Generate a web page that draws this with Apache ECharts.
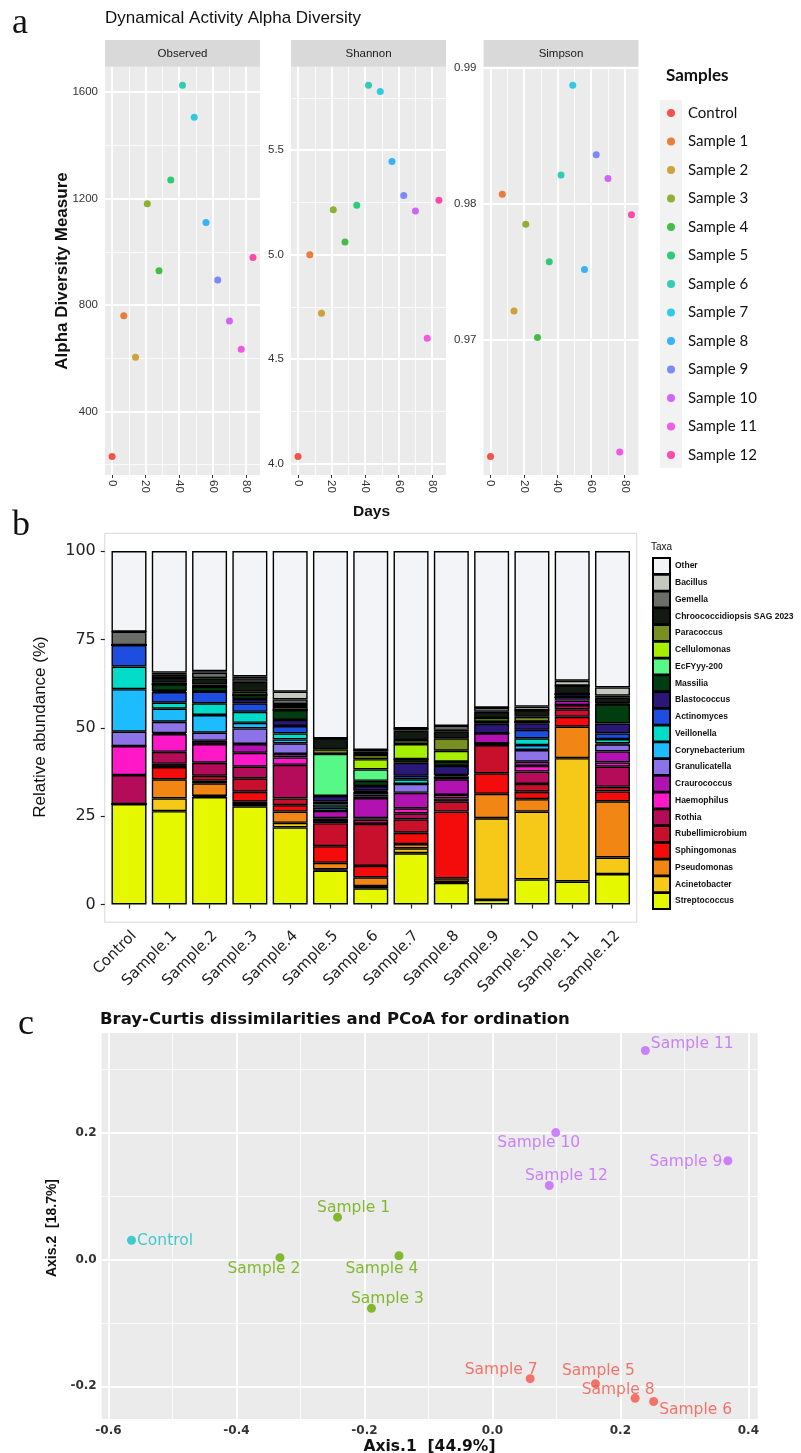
<!DOCTYPE html>
<html>
<head>
<meta charset="utf-8">
<title>Alpha diversity, taxa composition and PCoA</title>
<script src="https://cdn.jsdelivr.net/npm/echarts@6.0.0/dist/echarts.min.js"></script>
<style>
html, body { margin: 0; padding: 0; background: #ffffff; }
#chart { width: 801px; height: 1453px; }
</style>
</head>
<body>
<div id="chart"></div>
<script>
// ---------- (a) alpha diversity over the sampling days ----------
const sampleNames = ['Control', 'Sample 1', 'Sample 2', 'Sample 3', 'Sample 4', 'Sample 5', 'Sample 6',
  'Sample 7', 'Sample 8', 'Sample 9', 'Sample 10', 'Sample 11', 'Sample 12'];
const samplingDays = [0, 7, 14, 21, 28, 35, 42, 49, 56, 63, 70, 77, 84];
const observedRichness = [231, 760, 604, 1181, 929, 1270, 1626, 1506, 1110, 894, 740, 634, 979];
const shannonIndex = [4.035, 5.000, 4.720, 5.215, 5.060, 5.236, 5.810, 5.780, 5.446, 5.283, 5.209, 4.600, 5.260];
const simpsonIndex = [0.96146, 0.98070, 0.97214, 0.97851, 0.97020, 0.97576, 0.98212, 0.98871, 0.97519, 0.98361, 0.98187, 0.96178, 0.97920];
const sampleColors = ['#f42a20', '#ea5f0c', '#c4900c', '#74a000', '#1cb01c', '#00c25a', '#00c4a6', '#00c0e4',
  '#0aa2fa', '#5f6ffa', '#c844fa', '#f434e0', '#ff2296'];

const dayTicks = [0, 20, 40, 60, 80];
const dayMinorTicks = [10, 30, 50, 70];
const observedTicks = [400, 800, 1200, 1600];
const observedMinorTicks = [200, 600, 1000, 1400];
const shannonTicks = [4.0, 4.5, 5.0, 5.5];
const shannonMinorTicks = [4.25, 4.75, 5.25, 5.75];
const simpsonTicks = [0.97, 0.98, 0.99];
const simpsonMinorTicks = [0.965, 0.975, 0.985];

// ---------- (b) relative abundance of taxa (%) ----------
const barSamples = ['Control', 'Sample.1', 'Sample.2', 'Sample.3', 'Sample.4', 'Sample.5', 'Sample.6',
  'Sample.7', 'Sample.8', 'Sample.9', 'Sample.10', 'Sample.11', 'Sample.12'];
const streptococcus     = [28.4, 26.4, 30.4, 27.8, 21.8, 9.6, 4.6, 14.5, 6.1, 1.3, 7.1, 6.5, 8.6];
const acinetobacter     = [0, 3.6, 0.3, 0.6, 1.3, 0.3, 0.6, 1.4, 0.3, 23.1, 19.2, 34.9, 4.7];
const pseudomonas       = [0, 5.4, 3.6, 0.7, 3.2, 1.9, 2.5, 1.2, 1.0, 6.9, 3.5, 8.9, 15.9];
const sphingomonas      = [0, 3.5, 0.7, 2.8, 1.8, 4.7, 3.2, 3.2, 18.9, 5.8, 2.1, 2.8, 2.8];
const rubellimicrobium  = [0, 0.9, 1.4, 3.8, 1.9, 6.5, 11.9, 3.8, 2.8, 8.0, 2.2, 2.1, 1.3];
const rothia            = [8.2, 3.4, 3.7, 3.3, 9.5, 0.9, 1.2, 1.7, 0.9, 0.5, 3.5, 1.2, 5.7];
const haemophilus       = [8.2, 5.0, 5.3, 3.9, 2.1, 0.5, 0.4, 1.4, 1.0, 0, 1.6, 0, 1.2];
const craurococcus      = [0, 0.3, 0.9, 2.5, 1.0, 2.1, 5.7, 4.4, 4.4, 2.8, 1.2, 1.3, 3.1];
const granulicatella    = [4.1, 3.2, 2.3, 4.4, 3.0, 0, 0.5, 2.5, 0.3, 0, 3.3, 0.9, 2.0];
const corynebacterium   = [12.0, 3.7, 5.0, 1.6, 1.1, 0.9, 0.5, 0, 0, 0, 1.4, 0, 0.3];
const veillonella       = [6.4, 1.7, 3.3, 3.1, 1.7, 0.9, 0.8, 1.3, 0.6, 0, 1.9, 0, 1.2];
const actinomyces       = [6.1, 3.0, 3.3, 2.4, 2.1, 0.8, 0.3, 1.0, 0.3, 0, 2.4, 0, 1.6];
const blastococcus      = [0, 0.3, 0, 1.2, 1.7, 1.6, 1.3, 3.7, 2.6, 2.7, 1.9, 0.9, 2.8];
const massilia          = [0, 1.9, 1.4, 1.2, 2.8, 0, 1.5, 1.0, 1.2, 0.6, 0.4, 0, 5.4];
const ecfyyy200         = [0, 0, 0, 0, 0, 11.9, 3.2, 0, 0, 0, 0, 0, 0];
const cellulomonas      = [0, 0, 0, 0, 0, 0, 2.9, 4.3, 3.1, 1.0, 0, 0, 0];
const paracoccus        = [0, 0.4, 0.6, 0.9, 0.9, 1.3, 1.2, 1.1, 3.5, 0, 1.4, 0, 0.3];
const chroococcidiopsis = [0, 1.4, 1.8, 2.8, 0.8, 3.1, 0.9, 2.7, 2.0, 1.8, 1.9, 2.4, 1.6];
const gemella           = [3.8, 0.9, 1.6, 1.0, 1.3, 0, 0.5, 0.6, 0.4, 1.2, 0, 0, 0.6];
const bacillus          = [0, 0.6, 0.4, 0.5, 2.2, 0, 0, 0, 1.1, 0, 1.0, 1.4, 2.3];
const otherTaxa         = [22.8, 34.4, 34.0, 35.5, 39.8, 53.0, 56.3, 50.2, 49.5, 44.3, 44.0, 36.7, 38.6];
const abundanceTicks = [0, 25, 50, 75, 100];

// stacking order, bottom to top
const taxaNames = ['Streptococcus', 'Acinetobacter', 'Pseudomonas', 'Sphingomonas', 'Rubellimicrobium', 'Rothia',
  'Haemophilus', 'Craurococcus', 'Granulicatella', 'Corynebacterium', 'Veillonella', 'Actinomyces', 'Blastococcus',
  'Massilia', 'EcFYyy-200', 'Cellulomonas', 'Paracoccus', 'Chroococcidiopsis SAG 2023', 'Gemella', 'Bacillus', 'Other'];
const taxaValues = [streptococcus, acinetobacter, pseudomonas, sphingomonas, rubellimicrobium, rothia,
  haemophilus, craurococcus, granulicatella, corynebacterium, veillonella, actinomyces, blastococcus,
  massilia, ecfyyy200, cellulomonas, paracoccus, chroococcidiopsis, gemella, bacillus, otherTaxa];
const taxaColors = ['#e6f800', '#f6c818', '#f28614', '#f40c0c', '#c8102c', '#b40c58',
  '#ff18c8', '#b312b3', '#8c74e8', '#1cbcff', '#00dcc8', '#1e4ee0', '#2a1878',
  '#003d10', '#58f888', '#a6ef00', '#7a8f22', '#121a12', '#6b6d69', '#c4c8bf', '#f3f4f8'];

// ---------- (c) Bray-Curtis PCoA ----------
const pcoaAxis1 = [-0.564, -0.242, -0.332, -0.189, -0.146, 0.161, 0.252, 0.059, 0.223, 0.368, 0.099, 0.239, 0.089];
const pcoaAxis2 = [0.0305, 0.067, 0.003, -0.077, 0.006, -0.196, -0.224, -0.188, -0.219, 0.156, 0.2005, 0.330, 0.117];
const pcoaCluster = [0, 1, 1, 1, 1, 2, 2, 2, 2, 3, 3, 3, 3];
const clusterColors = ['#16c0c6', '#68ab00', '#f4554a', '#c266fb'];
const pcoaTicksX = [-0.6, -0.4, -0.2, 0.0, 0.2, 0.4];
const pcoaMinorX = [-0.5, -0.3, -0.1, 0.1, 0.3];
const pcoaTicksY = [-0.2, 0.0, 0.2];
const pcoaMinorY = [-0.1, 0.1, 0.3];
// label anchor for each sample name: side, dx, dy
const pcoaLabelPlace = [
  ['right', 0, 1], ['inside', 16, -9], ['inside', -16, 11], ['inside', 16, -9], ['inside', -17, 13],
  ['inside', 3, -13], ['right', 0, 9], ['inside', -29, -9], ['inside', -17, -8], ['left', 0, 1],
  ['inside', -17, 10], ['right', 0, -7], ['inside', 17, -9]
];

// ------------------------------------------------------------
const SANS = '"Liberation Sans", Arial, sans-serif';
const WIDE = '"DejaVu Sans", sans-serif';
const SERIF = '"Liberation Serif", "Times New Roman", serif';

function padRange(arr) {
  const lo = Math.min.apply(null, arr), hi = Math.max.apply(null, arr);
  const pad = (hi - lo) * 0.05;
  return [lo - pad, hi + pad];
}

function gridLineSeries(xi, major, minor, majorY, minorY) {
  const lines = [];
  major.forEach(v => lines.push({ xAxis: v, lineStyle: { color: '#ffffff', width: 1.8, type: 'solid' } }));
  minor.forEach(v => lines.push({ xAxis: v, lineStyle: { color: '#ffffff', width: 0.8, type: 'solid' } }));
  majorY.forEach(v => lines.push({ yAxis: v, lineStyle: { color: '#ffffff', width: 1.8, type: 'solid' } }));
  minorY.forEach(v => lines.push({ yAxis: v, lineStyle: { color: '#ffffff', width: 0.8, type: 'solid' } }));
  return {
    type: 'scatter', name: '__grid' + xi, xAxisIndex: xi, yAxisIndex: xi, data: [], silent: true, z: 1,
    markLine: { silent: true, z: 1, symbol: ['none', 'none'], label: { show: false }, animation: false,
      emphasis: { disabled: true }, data: lines }
  };
}

const facets = [
  { title: 'Observed', left: 105, values: observedRichness, ticks: observedTicks, minor: observedMinorTicks, fmt: v => String(v) },
  { title: 'Shannon', left: 291, values: shannonIndex, ticks: shannonTicks, minor: shannonMinorTicks, fmt: v => v.toFixed(1) },
  { title: 'Simpson', left: 483.5, values: simpsonIndex, ticks: simpsonTicks, minor: simpsonMinorTicks, fmt: v => v.toFixed(2) }
];
const facetWidth = 155, facetTop = 66.7, facetHeight = 408.3;
const dayRange = padRange(samplingDays);

const grids = [], xAxes = [], yAxes = [], series = [], graphics = [];

facets.forEach((f, i) => {
  const yr = padRange(f.values);
  grids.push({ left: f.left, top: facetTop, width: facetWidth, height: facetHeight, show: true,
    backgroundColor: '#ebebeb', borderWidth: 0, containLabel: false });
  xAxes.push({ gridIndex: i, type: 'value', min: dayRange[0], max: dayRange[1],
    axisLine: { show: false }, splitLine: { show: false },
    axisTick: { show: true, customValues: dayTicks, length: 3, lineStyle: { color: '#333' } },
    axisLabel: { customValues: dayTicks, rotate: -90, fontSize: 11.5, color: '#333', margin: 5, fontFamily: SANS } });
  yAxes.push({ gridIndex: i, type: 'value', min: yr[0], max: yr[1],
    axisLine: { show: false }, splitLine: { show: false },
    axisTick: { show: true, customValues: f.ticks, length: 3, lineStyle: { color: '#333' } },
    axisLabel: { customValues: f.ticks, fontSize: 11.5, color: '#333', margin: 7, fontFamily: SANS, formatter: f.fmt } });
  series.push(gridLineSeries(i, dayTicks, dayMinorTicks, f.ticks, f.minor));
  sampleNames.forEach((name, s) => {
    series.push({ type: 'scatter', name: name, xAxisIndex: i, yAxisIndex: i, z: 3,
      symbol: 'circle', symbolSize: 7, itemStyle: { color: sampleColors[s] },
      data: [[samplingDays[s], f.values[s]]] });
  });
  // facet strip
  graphics.push({ type: 'rect', shape: { x: f.left, y: 40, width: facetWidth, height: 26.7 }, style: { fill: '#d9d9d9' } });
  graphics.push({ type: 'text', x: f.left + facetWidth / 2, y: 53.5,
    style: { text: f.title, fontSize: 11.5, fontFamily: SANS, fill: '#1a1a1a', align: 'center', verticalAlign: 'middle', textAlign: 'center', textVerticalAlign: 'middle' } });
});

// ---- (b) stacked bars ----
const barGridIndex = 3;
grids.push({ left: 108.85, top: 551, width: 523.8, height: 353.5, show: false, containLabel: false });
xAxes.push({ gridIndex: barGridIndex, type: 'category', data: barSamples, offset: 17.7,
  axisLine: { show: false }, splitLine: { show: false },
  axisTick: { show: true, alignWithLabel: true, length: 4, lineStyle: { color: '#222', width: 1.2 } },
  axisLabel: { rotate: 45, fontSize: 15, color: '#222', margin: 6, fontFamily: WIDE, interval: 0, align: 'right', verticalAlign: 'top' } });
yAxes.push({ gridIndex: barGridIndex, type: 'value', min: abundanceTicks[0], max: abundanceTicks[abundanceTicks.length - 1], interval: 25, offset: 4.05,
  axisLine: { show: false }, splitLine: { show: false },
  axisTick: { show: true, length: 4, lineStyle: { color: '#222', width: 1.2 } },
  axisLabel: { fontSize: 16, color: '#222', margin: 9, fontFamily: WIDE } });
taxaNames.forEach((name, t) => {
  series.push({ type: 'bar', name: name, xAxisIndex: barGridIndex, yAxisIndex: barGridIndex, stack: 'taxa',
    barWidth: 35, data: taxaValues[t], z: 2,
    itemStyle: { color: taxaColors[t], borderColor: '#000000', borderWidth: 1.4 } });
});

// ---- (c) PCoA ----
const pcoaGridIndex = 4;
const xr = padRange(pcoaAxis1), yr = padRange(pcoaAxis2);
grids.push({ left: 101.7, top: 1033, width: 656, height: 386, show: true, backgroundColor: '#ebebeb', borderWidth: 0 });
xAxes.push({ gridIndex: pcoaGridIndex, type: 'value', min: xr[0], max: xr[1],
  axisLine: { show: false }, splitLine: { show: false },
  axisTick: { show: true, customValues: pcoaTicksX, length: 3, lineStyle: { color: '#333' } },
  axisLabel: { customValues: pcoaTicksX, fontSize: 12, fontWeight: 'bold', color: '#333', margin: 6, fontFamily: WIDE,
    formatter: v => v.toFixed(1) } });
yAxes.push({ gridIndex: pcoaGridIndex, type: 'value', min: yr[0], max: yr[1],
  axisLine: { show: false }, splitLine: { show: false },
  axisTick: { show: true, customValues: pcoaTicksY, length: 3, lineStyle: { color: '#333' } },
  axisLabel: { customValues: pcoaTicksY, fontSize: 12, fontWeight: 'bold', color: '#333', margin: 5, fontFamily: WIDE,
    formatter: v => v.toFixed(1) } });
series.push(gridLineSeries(pcoaGridIndex, pcoaTicksX, pcoaMinorX, pcoaTicksY, pcoaMinorY));
series.push({ type: 'scatter', name: 'Bray-Curtis PCoA', xAxisIndex: pcoaGridIndex, yAxisIndex: pcoaGridIndex, z: 3,
  symbol: 'circle', symbolSize: 9,
  data: sampleNames.map((name, s) => {
    const place = pcoaLabelPlace[s];
    const col = clusterColors[pcoaCluster[s]];
    return {
      name: name, value: [pcoaAxis1[s], pcoaAxis2[s]],
      itemStyle: { color: col },
      label: { show: true, formatter: name, position: place[0], distance: 1, offset: [place[1], place[2]],
        color: col, fontSize: 15.5, fontFamily: WIDE }
    };
  }) });

// ---- panel letters, titles and decorations ----
function txt(x, y, text, size, opts) {
  opts = opts || {};
  return { type: 'text', x: x, y: y, rotation: opts.rotation || 0, z: 10,
    style: { text: text, fontSize: size, fontFamily: opts.family || SANS, fontWeight: opts.weight || 'normal',
      fill: opts.color || '#111', align: opts.align || 'left', verticalAlign: 'middle',
      textAlign: opts.align || 'left', textVerticalAlign: 'middle' } };
}
graphics.push(txt(12, 24, 'a', 36, { family: SERIF }));
graphics.push(txt(12, 526, 'b', 36, { family: SERIF }));
graphics.push(txt(18, 1025, 'c', 36, { family: SERIF }));
graphics.push(txt(105, 18, 'Dynamical Activity Alpha Diversity', 17));
graphics.push(txt(371.5, 512, 'Days', 15.5, { weight: 'bold', align: 'center' }));
graphics.push(txt(62, 271, 'Alpha Diversity Measure', 17, { weight: 'bold', align: 'center', rotation: Math.PI / 2 }));
graphics.push({ type: 'rect', shape: { x: 660, y: 100, width: 22, height: 368 }, style: { fill: '#f2f2f2' } });
graphics.push(txt(666, 76, 'Samples', 17, { weight: 'bold', family: 'Lato, sans-serif' }));

graphics.push(txt(40, 727, 'Relative abundance (%)', 17, { align: 'center', rotation: Math.PI / 2 }));
graphics.push({ type: 'rect', shape: { x: 104.8, y: 533.3, width: 531.9, height: 388.9 },
  style: { fill: 'none', stroke: '#d8d8d8', lineWidth: 1 } });
graphics.push(txt(651, 547, 'Taxa', 10));

graphics.push(txt(100, 1020, 'Bray-Curtis dissimilarities and PCoA for ordination', 16.5, { weight: 'bold', family: WIDE }));
graphics.push(txt(52, 1228, 'Axis.2  [18.7%]', 14, { weight: 'bold', align: 'center', rotation: Math.PI / 2 }));
graphics.push(txt(429.5, 1447, 'Axis.1  [44.9%]', 15.5, { weight: 'bold', align: 'center', family: WIDE }));

const option = {
  animation: false,
  backgroundColor: '#ffffff',
  grid: grids,
  xAxis: xAxes,
  yAxis: yAxes,
  legend: [
    { data: sampleNames, orient: 'vertical', left: 662, top: 99, icon: 'circle', selectedMode: false,
      itemWidth: 24, itemHeight: 8, itemGap: 10.5,
      textStyle: { fontSize: 15, fontFamily: 'Lato, sans-serif', color: '#111', lineHeight: 18 } },
    { data: taxaNames.slice().reverse(), orient: 'vertical', left: 647, top: 552, icon: 'rect', selectedMode: false,
      itemWidth: 17, itemHeight: 16, itemGap: -1.25,
      textStyle: { fontSize: 8.5, fontWeight: 'bold', fontFamily: SANS, color: '#111' } }
  ],
  series: series,
  graphic: { elements: graphics }
};

const chart = echarts.init(document.getElementById('chart'), null, { renderer: 'canvas' });
chart.setOption(option);
</script>
</body>
</html>
